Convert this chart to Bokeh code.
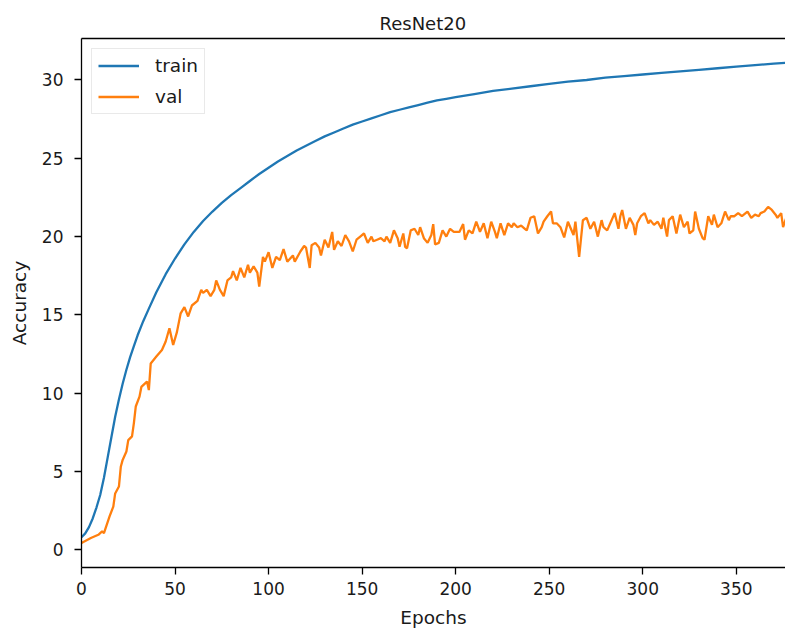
from bokeh.plotting import figure
from bokeh.models import Range1d, FixedTicker, LinearAxis, Legend, LegendItem
from bokeh.embed import file_html
from bokeh.resources import INLINE

# ---- data ----
train_epochs = [0, 2, 4, 6, 8, 10, 12, 14, 16, 18, 20, 22, 24, 26, 28, 30, 33, 36, 40, 45,
                50, 55, 60, 65, 70, 75, 80, 85, 90, 95,
                100, 105, 110, 115, 120, 125, 130, 135, 140, 145, 150, 155, 160, 165, 170, 175,
                180, 185, 190, 195, 200, 210, 220, 230, 240, 250, 260, 270, 280, 290, 300, 310,
                320, 330, 340, 350, 360, 370, 377]
train_acc = [0.8, 1.05, 1.45, 2.0, 2.7, 3.5, 4.6, 5.9, 7.2, 8.5, 9.6, 10.6, 11.5, 12.3, 13.0,
             13.7, 14.6, 15.4, 16.45, 17.6,
             18.6, 19.5, 20.3, 21.0,
             21.6, 22.15, 22.65, 23.1, 23.55, 24.0, 24.4, 24.8, 25.15, 25.5, 25.8, 26.1, 26.4,
             26.65, 26.9, 27.15, 27.35, 27.55, 27.75, 27.95, 28.1, 28.25, 28.4, 28.55, 28.7, 28.8,
             28.9, 29.1, 29.3, 29.45, 29.6, 29.75, 29.9, 30.0, 30.15, 30.25, 30.35, 30.45, 30.55,
             30.65, 30.75, 30.85, 30.95, 31.05, 31.1]

val_epochs = [0, 5, 9, 11, 12, 15, 17, 18, 20, 21, 22, 24, 25, 27, 28, 29, 31, 32, 35, 36, 37, 40,
              43, 45, 47, 49, 51, 53, 55, 57, 59, 62, 64, 65, 67, 69, 71, 72, 74, 76, 78, 80, 81,
              83, 85, 87, 89, 90, 92, 94, 95, 97, 98, 100, 102, 104, 106, 108, 110, 113, 114, 117,
              119, 120, 122, 123, 125, 127, 128, 130, 132, 134, 135, 137, 139, 141, 143, 145, 147,
              149, 151, 153, 155, 156, 158, 160, 162, 163, 165, 167, 169, 170, 172, 173, 174, 176,
              178, 180, 181, 183, 185, 187, 188, 189, 191, 193, 195, 197, 199, 202, 204, 205, 207,
              209, 211, 213, 215, 217, 219, 221, 222, 224, 226, 228, 230, 231, 233, 235, 237, 238,
              240, 242, 244, 246, 247, 249, 251, 252, 254, 256, 258, 260, 263, 264, 266, 268, 270,
              272, 274, 276, 278, 279, 281, 283, 285, 287, 288, 289, 291, 293, 295, 296, 297, 299,
              301, 303, 304, 306, 308, 310, 311, 313, 314, 316, 318, 320, 322, 324, 325, 327, 328,
              330, 332, 333, 335, 337, 338, 340, 342, 344, 346, 347, 349, 351, 353, 354, 356, 358,
              360, 362, 363, 365, 367, 369, 371, 372, 374, 375, 377]
val_acc = [0.43, 0.75, 0.96, 1.17, 1.07, 2.13, 2.76, 3.6, 4.04, 5.3, 5.74, 6.28, 7.0, 7.24, 8.09,
           9.15, 9.78, 10.4, 10.74, 10.2, 11.9, 12.34, 12.76, 13.3, 14.15, 13.08, 13.9, 15.1, 15.5,
           14.9, 15.6, 15.9, 16.6, 16.4, 16.6, 16.2, 16.6, 17.2, 16.6, 16.2, 17.2, 17.4, 17.8,
           17.2, 18.0, 17.4, 18.2, 17.7, 18.1, 17.7, 16.8, 18.7, 18.4, 19.0, 18.0, 18.7, 18.5,
           19.2, 18.4, 18.8, 18.4, 19.05, 19.4, 19.3, 18.0, 19.45, 19.6, 19.3, 18.8, 19.8, 19.3,
           20.3, 19.15, 19.7, 19.4, 20.1, 19.7, 19.05, 19.8, 20.0, 20.2, 19.6, 20.0, 19.7, 19.8,
           19.9, 19.7, 20.0, 19.6, 20.4, 19.9, 19.35, 20.2, 19.35, 19.25, 20.4, 20.5, 20.1, 20.6,
           19.9, 19.6, 20.1, 20.8, 19.5, 19.6, 20.4, 20.0, 20.5, 20.3, 20.3, 20.8, 19.8, 20.4,
           20.2, 20.95, 20.3, 20.85, 19.9, 20.95, 20.3, 19.9, 20.85, 20.1, 20.85, 20.6, 20.85,
           20.6, 20.7, 20.5, 20.4, 21.2, 21.3, 20.2, 20.6, 20.95, 21.3, 21.6, 20.85, 20.85, 20.6,
           19.95, 20.95, 20.1, 20.95, 18.7, 21.05, 21.2, 20.5, 20.95, 20.0, 21.05, 20.6, 20.4,
           20.95, 21.5, 20.5, 21.3, 21.7, 20.5, 21.2, 20.75, 20.1, 20.85, 21.3, 21.5, 20.85,
           21.05, 20.75, 20.95, 20.5, 21.2, 20.0, 21.05, 21.3, 20.2, 21.4, 20.6, 20.95, 20.2,
           20.4, 21.6, 20.5, 19.9, 19.8, 21.3, 20.75, 21.4, 20.6, 20.85, 21.6, 21.05, 21.3, 21.3,
           21.5, 21.3, 21.4, 21.6, 21.2, 21.4, 21.3, 21.5, 21.6, 21.9, 21.7, 21.4, 21.2, 21.5,
           20.6, 21.3]

x_ticks = [0, 50, 100, 150, 200, 250, 300, 350]
y_ticks = [0, 5, 10, 15, 20, 25, 30]

FONT = "DejaVu Sans"
TXT = "#1a1a1a"

p = figure(width=785, height=633, output_backend="svg", toolbar_location=None,
           x_range=Range1d(0, 376.3), y_range=Range1d(-1.13, 32.65),
           min_border_left=81, min_border_right=0, min_border_top=38, min_border_bottom=66,
           title="ResNet20")
p.outline_line_color = None
p.grid.visible = False
p.background_fill_color = "white"
p.border_fill_color = "white"

p.title.text_font = FONT
p.title.text_font_style = "normal"
p.title.text_font_size = "18px"
p.title.text_color = TXT
p.title.align = "left"
p.title.offset = 298

for ax in (p.xaxis[0], p.yaxis[0]):
    ax.axis_line_width = 1.3
    ax.axis_line_color = "black"
    ax.major_tick_line_width = 1.3
    ax.major_tick_line_color = "black"
    ax.major_tick_out = 7
    ax.major_tick_in = 0
    ax.minor_tick_out = 0
    ax.minor_tick_in = 0
    ax.major_label_text_font = FONT
    ax.major_label_text_font_size = "17px"
    ax.major_label_text_color = TXT
    ax.axis_label_text_font = FONT
    ax.axis_label_text_font_size = "18.5px"
    ax.axis_label_text_font_style = "normal"
    ax.axis_label_text_color = TXT

p.xaxis[0].ticker = FixedTicker(ticks=x_ticks)
p.yaxis[0].ticker = FixedTicker(ticks=y_ticks)
p.xaxis[0].axis_label = "Epochs"
p.yaxis[0].axis_label = "Accuracy"
p.xaxis[0].major_label_standoff = 7
p.yaxis[0].major_label_standoff = 11
p.xaxis[0].axis_label_standoff = 9
p.yaxis[0].axis_label_standoff = 9

top = LinearAxis(ticker=FixedTicker(ticks=[]), axis_line_width=1.3, axis_line_color="black",
                 major_label_text_font_size="0px", major_tick_out=0, minor_tick_out=0)
p.add_layout(top, "above")

r1 = p.line(train_epochs, train_acc, line_color="#1f77b4", line_width=2.3)
r2 = p.line(val_epochs, val_acc, line_color="#ff7f0e", line_width=2.3)

legend = Legend(items=[LegendItem(label="train", renderers=[r1]),
                       LegendItem(label="val", renderers=[r2])],
                location="top_left")
legend.margin = 10
legend.padding = 6
legend.spacing = 10
legend.glyph_width = 41
legend.glyph_height = 21
legend.label_standoff = 16
legend.label_text_font = FONT
legend.label_text_font_size = "18.5px"
legend.label_text_color = TXT
legend.border_line_color = "#d3d3d3"
legend.border_line_width = 1.2
legend.background_fill_alpha = 0.8
p.add_layout(legend)

open("out.html", "w").write(file_html(p, INLINE))
